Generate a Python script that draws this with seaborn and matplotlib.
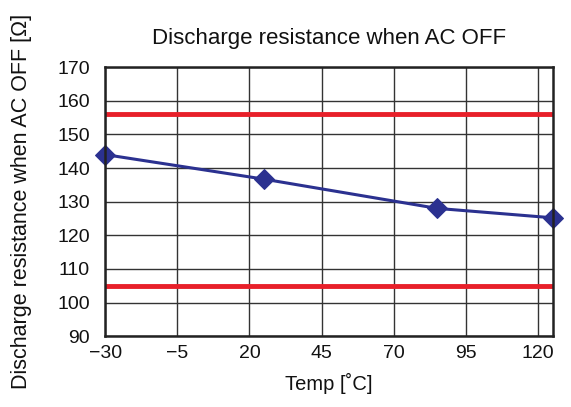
import numpy as np
import pandas as pd
import matplotlib
matplotlib.use("Agg")
import matplotlib.pyplot as plt
import seaborn as sns

# data
temp = [-30, 25, 85, 125]
resistance = [144, 136.7, 128, 125.2]
upper_limit = 156
lower_limit = 104.8

x_ticks = [-30, -5, 20, 45, 70, 95, 120]
x_tick_labels = ["\u221230", "\u22125", "20", "45", "70", "95", "120"]
y_ticks = [90, 100, 110, 120, 130, 140, 150, 160, 170]

df = pd.DataFrame({"temp": temp, "resistance": resistance})

sns.set_style("white")
plt.rcParams["font.family"] = ["Liberation Sans", "DejaVu Sans"]

fig = plt.figure(figsize=(5.71, 4.07), dpi=100)
ax = fig.add_axes([0.184, 0.174, 0.784, 0.661])

# grid
for x in x_ticks:
    ax.axvline(x, color="#333333", lw=1.0, zorder=1)
for y in y_ticks:
    ax.axhline(y, color="#333333", lw=1.0, zorder=1)

# limit lines
ax.axhline(upper_limit, color="#e8202a", lw=3.5, zorder=2)
ax.axhline(lower_limit, color="#e8202a", lw=3.5, zorder=2)

sns.lineplot(data=df, x="temp", y="resistance", ax=ax, color="#2b3190",
             lw=2.2, marker="D", markersize=10, markeredgecolor="#2b3190",
             zorder=3, clip_on=False)

ax.set_xlim(-30, 125)
ax.set_ylim(90, 170)
ax.set_xticks(x_ticks)
ax.set_xticklabels(x_tick_labels)
ax.set_yticks(y_ticks)
ax.tick_params(axis="both", labelsize=14, length=0, colors="#111111")
ax.tick_params(axis="y", pad=11)
ax.tick_params(axis="x", pad=6)

for s in ax.spines.values():
    s.set_color("#222222")
    s.set_linewidth(1.8)
    s.set_zorder(4)

ax.set_title("Discharge resistance when AC OFF", fontsize=16, pad=17, color="#111111")
ax.set_xlabel("Temp [\u02daC]", fontsize=14.5, labelpad=8, color="#111111")
ax.set_ylabel("Discharge resistance when AC OFF [\u03a9]", fontsize=15.5, labelpad=18,
              color="#111111")

fig.savefig("out.png", dpi=100)
